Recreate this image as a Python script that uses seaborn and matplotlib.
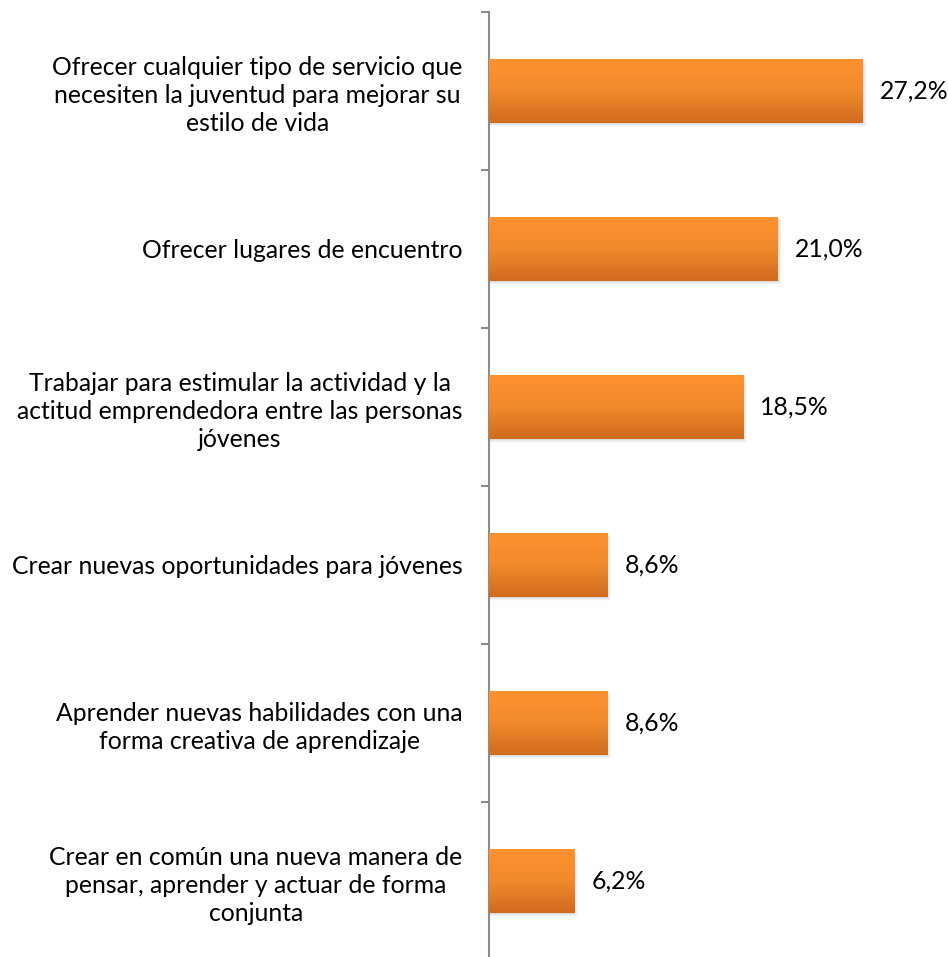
import matplotlib
matplotlib.use("Agg")
import matplotlib.pyplot as plt
import seaborn as sns
import numpy as np
import pandas as pd
from matplotlib.colors import LinearSegmentedColormap
from matplotlib.patches import Rectangle

categories = [
    "Ofrecer cualquier tipo de servicio que\nnecesiten la juventud para mejorar su\nestilo de vida",
    "Ofrecer lugares de encuentro",
    "Trabajar para estimular la actividad y la\nactitud emprendedora entre las personas\njóvenes",
    "Crear nuevas oportunidades para jóvenes",
    "Aprender nuevas habilidades con una\nforma creativa de aprendizaje",
    "Crear en común una nueva manera de\npensar, aprender y actuar de forma\nconjunta",
]
values = [27.2, 21.0, 18.5, 8.6, 8.6, 6.2]
value_labels = ["27,2%", "21,0%", "18,5%", "8,6%", "8,6%", "6,2%"]

sns.set_theme(style="white")
plt.rcParams["font.family"] = ["Lato", "DejaVu Sans"]

W, H = 948, 957
PX_PER_X = 13.75
PX_PER_Y = 158.0
fig = plt.figure(figsize=(W / 100, H / 100), dpi=100)
ax_left = 489 / W
ax_bottom = 1 - 960 / H
ax_top = 1 - 12 / H
ax = fig.add_axes([ax_left, ax_bottom, 1 - ax_left, ax_top - ax_bottom])

df = pd.DataFrame({"cat": categories, "val": values})
sns.barplot(data=df, x="val", y="cat", ax=ax, color="#F7902C", width=0.405,
            saturation=1, orient="h")

xmax = (W - 489) / PX_PER_X
ax.set_xlim(0, xmax)
ax.set_ylim(len(categories) - 0.5, -0.5)

cmap = LinearSegmentedColormap.from_list("g", ["#FF9230", "#F08A2C", "#D06A1E"])
grad = np.linspace(0, 1, 256).reshape(-1, 1)
for p in list(ax.patches):
    x0, y0 = p.get_x(), p.get_y()
    w, h = p.get_width(), p.get_height()
    # soft shadow (right & bottom)
    for k, a in enumerate([0.05, 0.04, 0.03, 0.02]):
        dx = (1 + k) / PX_PER_X
        dy = (1 + k) / PX_PER_Y
        sh = Rectangle((x0, y0 + dy), w + dx, h, facecolor="black", alpha=a,
                       edgecolor="none", zorder=1)
        ax.add_patch(sh)
    p.set_zorder(2)
    p.set_edgecolor("none")
    im = ax.imshow(grad, cmap=cmap, aspect="auto",
                   extent=[x0, x0 + w, y0 + h, y0], zorder=3)
    im.set_clip_path(p)

for i, (v, lab) in enumerate(zip(values, value_labels)):
    ax.text(v + 17 / PX_PER_X, i, lab, va="center", ha="left", fontsize=17.8,
            color="black")

ax.set_xlabel("")
ax.set_ylabel("")
ax.set_xticks([])
for s in ["top", "right", "bottom"]:
    ax.spines[s].set_visible(False)
ax.spines["left"].set_color("#8C8C8C")
ax.spines["left"].set_linewidth(1.5)

ax.set_yticks(range(len(categories)))
ax.set_yticklabels(categories)
ax.set_yticks(np.arange(-0.5, len(categories), 1), minor=True)
ax.tick_params(axis="y", which="major", length=0, pad=19, labelsize=17.8,
               labelcolor="black")
ax.tick_params(axis="y", which="minor", length=6, width=1.5, color="#8C8C8C",
               left=True, direction="out")
for t in ax.get_yticklabels():
    t.set_multialignment("center")
    t.set_linespacing(1.25)

fig.savefig("out.png", dpi=100)
